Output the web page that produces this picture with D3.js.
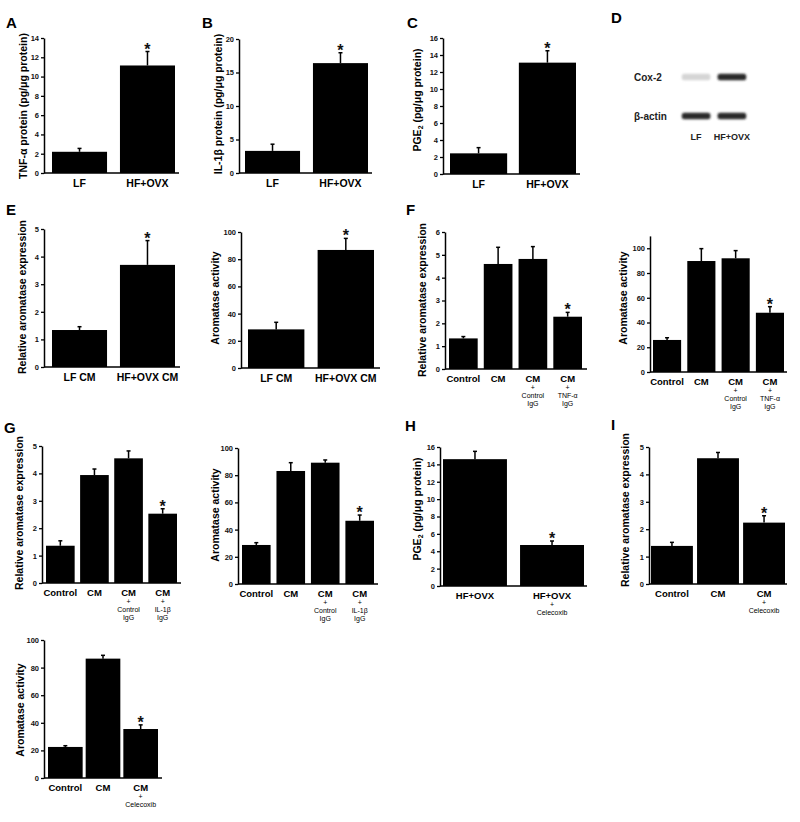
<!DOCTYPE html>
<html><head><meta charset="utf-8">
<script src="https://cdn.jsdelivr.net/npm/d3@7"></script>
<style>body{margin:0;background:#fff}svg{display:block}</style>
</head><body>
<svg id="fig" width="800" height="822"></svg>
<script>
// ---------------- DATA ----------------
const catsA = ["LF", "HF+OVX"];
const valsA = [2.2, 11.15];
const errA  = [0.35, 1.45];
const sigA  = [false, true];

const catsB = ["LF", "HF+OVX"];
const valsB = [3.3, 16.4];
const errB  = [1.0, 1.55];
const sigB  = [false, true];

const catsC = ["LF", "HF+OVX"];
const valsC = [2.43, 13.1];
const errC  = [0.67, 1.4];
const sigC  = [false, true];

const catsE1 = ["LF CM", "HF+OVX CM"];
const valsE1 = [1.34, 3.7];
const errE1  = [0.12, 0.88];
const sigE1  = [false, true];

const catsE2 = ["LF CM", "HF+OVX CM"];
const valsE2 = [28.4, 86.8];
const errE2  = [5.2, 8.5];
const sigE2  = [false, true];

const catsF = ["Control", "CM", "CM\n+\nControl\nIgG", "CM\n+\nTNF-α\nIgG"];
const valsF1 = [1.34, 4.6, 4.82, 2.29];
const errF1  = [0.08, 0.73, 0.54, 0.19];
const valsF2 = [25.9, 89.7, 91.9, 47.9];
const errF2  = [1.8, 10.0, 6.2, 4.9];
const sigF   = [false, false, false, true];

const catsG = ["Control", "CM", "CM\n+\nControl\nIgG", "CM\n+\nIL-1β\nIgG"];
const valsG1 = [1.36, 3.94, 4.55, 2.53];
const errG1  = [0.18, 0.22, 0.27, 0.18];
const valsG2 = [28.7, 83.1, 89.2, 46.5];
const errG2  = [1.7, 6.1, 2.0, 4.2];
const sigG   = [false, false, false, true];

const catsH = ["HF+OVX", "HF+OVX\n+\nCelecoxib"];
const valsH = [14.6, 4.72];
const errH  = [0.9, 0.46];
const sigH  = [false, true];

const catsI = ["Control", "CM", "CM\n+\nCelecoxib"];
const valsI = [1.39, 4.59, 2.24];
const errI  = [0.13, 0.21, 0.25];
const valsJ = [22.5, 86.5, 35.5];
const errJ  = [0.9, 2.4, 3.0];
const sigI  = [false, false, true];

const blotLanes = ["LF", "HF+OVX"];
const blotRows  = ["Cox-2", "β-actin"];
const cox2Level  = [0.14, 0.93];
const actinLevel = [0.92, 0.93];

const titleTNF = "TNF-α protein (pg/μg protein)";
const titleIL  = "IL-1β protein (pg/μg protein)";
const titleRel = "Relative aromatase expression";
const titleAct = "Aromatase activity";
const titlePGE = ["PGE", "2", " (pg/μg protein)"];

// ---------------- LAYOUT ----------------
const FONT = "'Liberation Sans', Arial, Helvetica, sans-serif";
const panels = [
  {letter:"A", lx:6,   ly:28,  cats:catsA,  vals:valsA,  errs:errA,  sig:sigA,  title:titleTNF, tx:23,  ty:106, ax:44,  aEnd:179, bL:52,  bR:175, pad:0.19, y0:173, yTopPx:38,  dMax:14,  tMax:14,  tStep:2,   lab:10.5},
  {letter:"B", lx:202, ly:28,  cats:catsB,  vals:valsB,  errs:errB,  sig:sigB,  title:titleIL,  tx:218, ty:104, ax:239, aEnd:372, bL:245, bR:368, pad:0.19, y0:173, yTopPx:39,  dMax:20,  tMax:20,  tStep:5,   lab:10.5},
  {letter:"C", lx:407, ly:28,  cats:catsC,  vals:valsC,  errs:errC,  sig:sigC,  title:titlePGE, tx:417, ty:100, ax:443, aEnd:580, bL:450, bR:576, pad:0.17, y0:174, yTopPx:38,  dMax:16,  tMax:16,  tStep:2,   lab:10.5},
  {letter:"E", lx:6,   ly:215, cats:catsE1, vals:valsE1, errs:errE1, sig:sigE1, title:titleRel, tx:22,  ty:297, ax:44,  aEnd:180, bL:52,  bR:175, pad:0.19, y0:367, yTopPx:229, dMax:5,   tMax:5,   tStep:1,   lab:10.5},
  {letter:null,lx:0,   ly:0,   cats:catsE2, vals:valsE2, errs:errE2, sig:sigE2, title:titleAct, tx:215, ty:298, ax:241, aEnd:380, bL:248, bR:374, pad:0.19, y0:368, yTopPx:232, dMax:100, tMax:100, tStep:20,  lab:10.5},
  {letter:"F", lx:406, ly:215, cats:catsF,  vals:valsF1, errs:errF1, sig:sigF,  title:titleRel, tx:422, ty:300, ax:445, aEnd:587, bL:449, bR:582, pad:0.175,y0:369, yTopPx:232, dMax:6,   tMax:6,   tStep:1,   lab:9.5},
  {letter:null,lx:0,   ly:0,   cats:catsF,  vals:valsF2, errs:errF2, sig:sigF,  title:titleAct, tx:623, ty:298, ax:650, aEnd:787, bL:653, bR:784, pad:0.18, y0:372, yTopPx:235.9,dMax:110,tMax:100, tStep:20,  lab:9.5},
  {letter:"G", lx:4,   ly:433, cats:catsG,  vals:valsG1, errs:errG1, sig:sigG,  title:titleRel, tx:19,  ty:513, ax:42,  aEnd:181, bL:46,  bR:177, pad:0.16, y0:583, yTopPx:446, dMax:5,   tMax:5,   tStep:1,   lab:9.5},
  {letter:null,lx:0,   ly:0,   cats:catsG,  vals:valsG2, errs:errG2, sig:sigG,  title:titleAct, tx:215, ty:515, ax:238, aEnd:378, bL:242, bR:374, pad:0.17, y0:584, yTopPx:448, dMax:100, tMax:100, tStep:20,  lab:9.5},
  {letter:"H", lx:405, ly:431, cats:catsH,  vals:valsH,  errs:errH,  sig:sigH,  title:titlePGE, tx:417, ty:509, ax:440, aEnd:587, bL:443, bR:584, pad:0.17, y0:586, yTopPx:447, dMax:16,  tMax:16,  tStep:2,   lab:9.5},
  {letter:"I", lx:611, ly:430, cats:catsI,  vals:valsI,  errs:errI,  sig:sigI,  title:titleRel, tx:625, ty:510, ax:649, aEnd:787, bL:651, bR:785, pad:0.09, y0:584, yTopPx:447, dMax:5,   tMax:5,   tStep:1,   lab:9.5},
  {letter:null,lx:0,   ly:0,   cats:catsI,  vals:valsJ,  errs:errJ,  sig:sigI,  title:titleAct, tx:20,  ty:710, ax:44,  aEnd:162, bL:48,  bR:158, pad:0.08, y0:778, yTopPx:640, dMax:100, tMax:100, tStep:20,  lab:9.5}
];

// ---------------- DRAW ----------------
const svg = d3.select("#fig").style("font-family", FONT);
svg.append("rect").attr("width", 800).attr("height", 822).attr("fill", "#fff");

panels.forEach(p => {
  const g = svg.append("g");
  const y = d3.scaleLinear().domain([0, p.dMax]).range([p.y0, p.yTopPx]);
  const x = d3.scaleBand().domain(p.cats).range([p.bL, p.bR]).paddingInner(p.pad).paddingOuter(0);

  if (p.letter) {
    svg.append("text").attr("x", p.lx).attr("y", p.ly).attr("font-size", 15).attr("font-weight", "bold")
      .attr("fill", "#000").text(p.letter);
  }

  // y axis
  const ticks = d3.range(0, p.tMax + 1e-9, p.tStep);
  const ya = g.append("g").attr("transform", `translate(${p.ax},0)`)
    .call(d3.axisLeft(y).tickValues(ticks).tickSize(3).tickSizeOuter(0).tickPadding(2).tickFormat(d3.format("d")));
  ya.select(".domain").attr("stroke", "#000").attr("stroke-width", 1.5);
  ya.selectAll(".tick line").attr("stroke", "#000").attr("stroke-width", 1.3);
  ya.selectAll(".tick text").attr("font-size", 7.5).attr("font-weight", "bold").attr("font-family", FONT).attr("fill", "#111");

  // x axis line
  g.append("line").attr("x1", p.ax).attr("x2", p.aEnd).attr("y1", p.y0).attr("y2", p.y0)
    .attr("stroke", "#000").attr("stroke-width", 1.6);

  // bars
  g.selectAll("rect.bar").data(p.vals).join("rect").attr("class", "bar")
    .attr("x", (d, i) => x(p.cats[i])).attr("width", x.bandwidth())
    .attr("y", d => y(d)).attr("height", d => y(0) - y(d)).attr("fill", "#000");

  // error bars
  p.vals.forEach((v, i) => {
    const cx = x(p.cats[i]) + x.bandwidth() / 2;
    const top = y(v + p.errs[i]);
    g.append("line").attr("x1", cx).attr("x2", cx).attr("y1", y(v)).attr("y2", top)
      .attr("stroke", "#000").attr("stroke-width", 1.5);
    g.append("line").attr("x1", cx - 2).attr("x2", cx + 2).attr("y1", top).attr("y2", top)
      .attr("stroke", "#000").attr("stroke-width", 1.5);
    if (p.sig[i]) {
      g.append("text").attr("x", cx).attr("y", top + 3).attr("text-anchor", "middle")
        .attr("font-size", 16).attr("font-weight", "bold").attr("fill", "#111").text("*");
    }
  });

  // x labels
  p.cats.forEach((c, i) => {
    const cx = x(c) + x.bandwidth() / 2;
    c.split("\n").forEach((line, k) => {
      const yy = k === 0 ? p.y0 + 9.5 : p.y0 + 18.5 + 8 * (k - 1);
      g.append("text").attr("x", cx).attr("y", yy)
        .attr("text-anchor", "middle").attr("dominant-baseline", "central")
        .attr("font-size", k === 0 ? p.lab : 7).attr("font-weight", k === 0 ? "bold" : "normal")
        .attr("fill", "#000").text(line);
    });
  });

  // y title
  const t = g.append("text").attr("transform", `translate(${p.tx},${p.ty}) rotate(-90)`)
    .attr("text-anchor", "middle").attr("dominant-baseline", "central")
    .attr("font-size", 10.5).attr("font-weight", "bold").attr("fill", "#000");
  if (Array.isArray(p.title)) {
    t.append("tspan").text(p.title[0]);
    t.append("tspan").attr("font-size", 7).attr("dy", 2.5).text(p.title[1]);
    t.append("tspan").attr("dy", -2.5).text(p.title[2]);
  } else {
    t.text(p.title);
  }
});

// ---------------- PANEL D (western blot) ----------------
const defs = svg.append("defs");
defs.append("filter").attr("id", "blur").attr("x", "-20%").attr("y", "-80%").attr("width", "140%").attr("height", "260%")
  .append("feGaussianBlur").attr("stdDeviation", 1.1);

svg.append("text").attr("x", 611).attr("y", 23).attr("font-size", 15).attr("font-weight", "bold").text("D");
const lane = d3.scaleBand().domain(blotLanes).range([680, 748]).paddingInner(0.2).paddingOuter(0.05);
const rowY = d3.scalePoint().domain(blotRows).range([77, 116]);
const shade = d3.scaleLinear().domain([0, 1]).range(["#f4f4f4", "#1a1a1a"]);
const blotLevels = [cox2Level, actinLevel];
blotRows.forEach((r, ri) => {
  svg.append("text").attr("x", 634).attr("y", rowY(r)).attr("dominant-baseline", "central")
    .attr("font-size", 10).attr("font-weight", "bold").attr("fill", "#222").text(r);
  blotLanes.forEach((l, li) => {
    const lvl = blotLevels[ri][li];
    svg.append("rect").attr("x", lane(l)).attr("width", lane.bandwidth())
      .attr("y", rowY(r) - 3.2).attr("height", 6.4).attr("rx", 2.5)
      .attr("fill", shade(lvl)).attr("filter", "url(#blur)");
  });
});
blotLanes.forEach(l => {
  svg.append("text").attr("x", lane(l) + lane.bandwidth() / 2).attr("y", 137)
    .attr("text-anchor", "middle").attr("dominant-baseline", "central")
    .attr("font-size", 9).attr("font-weight", "bold").attr("fill", "#222").text(l);
});
</script>
</body></html>
